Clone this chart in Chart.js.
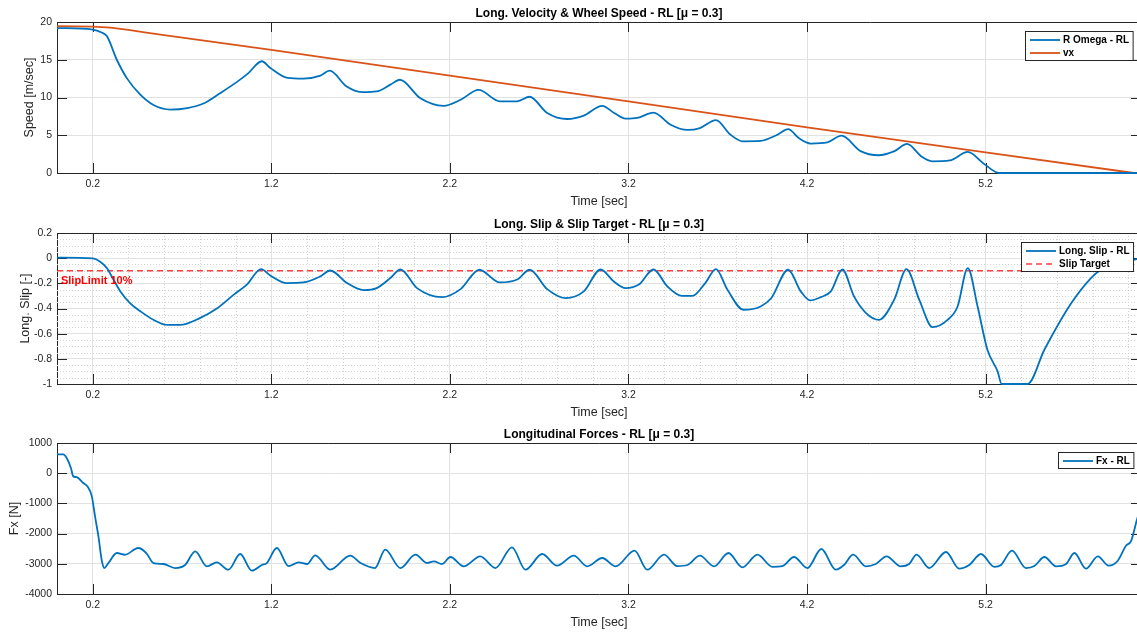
<!DOCTYPE html>
<html>
<head>
<meta charset="utf-8">
<script src="https://cdn.jsdelivr.net/npm/chart.js@4"></script>
<style>
  html, body { margin: 0; padding: 0; background: #fff; overflow: hidden; }
  .panel { position: absolute; left: 0; }
</style>
</head>
<body>
<canvas id="speedChart" class="panel" width="1145" height="211" style="top:0px"></canvas>
<canvas id="slipChart" class="panel" width="1145" height="211" style="top:211px"></canvas>
<canvas id="forceChart" class="panel" width="1145" height="211" style="top:421px"></canvas>
<script>

// Data

const xTicks = [0.2, 1.2, 2.2, 3.2, 4.2, 5.2];
const xMax = 6.07;

const speedTime = [0, 0.2, 0.25, 0.28, 0.335, 0.39, 0.465, 0.54, 0.635, 0.73, 0.82, 0.915, 1.01, 1.07, 1.147, 1.195,
    1.29, 1.38, 1.475, 1.527, 1.62, 1.715, 1.79, 1.867, 1.92, 2.035, 2.165, 2.26, 2.36, 2.48, 2.577, 2.646,
    2.745, 2.857, 2.95, 3.053, 3.12, 3.184, 3.25, 3.34, 3.436, 3.53, 3.6, 3.69, 3.77, 3.84, 3.94, 4.034,
    4.094, 4.155, 4.22, 4.314, 4.393, 4.5, 4.6, 4.69, 4.76, 4.84, 4.9, 5.0, 5.1, 5.19, 5.276, 6.07];
const wheelSpeed = [19.2, 19.0, 18.6, 18.1, 15.0, 12.6, 10.4, 9.0, 8.4, 8.6, 9.2, 10.6, 12.1, 13.2, 14.8, 13.9,
    12.6, 12.5, 12.9, 13.55, 11.5, 10.7, 10.8, 11.7, 12.35, 9.9, 8.9, 9.7, 11.0, 9.5, 9.5, 10.1,
    7.95, 7.15, 7.6, 8.9, 7.95, 7.2, 7.3, 8.0, 6.4, 5.7, 5.95, 7.0, 5.1, 4.2, 4.25, 5.07,
    5.8, 4.6, 3.9, 4.05, 4.95, 2.9, 2.35, 2.9, 3.85, 2.2, 1.55, 1.67, 2.8, 1.23, 0, 0];

const vxTime = [0, 0.2, 0.3, 0.4, 0.5, 0.6, 1.2, 2.2, 3.2, 4.2, 5.2, 6.03, 6.07];
const vx = [19.45, 19.4, 19.25, 18.95, 18.6, 18.25, 16.3, 12.9, 9.5, 6.05, 2.73, 0, 0];

const slipTime = [0, 0.2, 0.24, 0.28, 0.316, 0.353, 0.41, 0.465, 0.54, 0.615, 0.69, 0.8, 0.895, 0.99, 1.063, 1.143,
    1.194, 1.287, 1.38, 1.474, 1.53, 1.624, 1.717, 1.79, 1.867, 1.923, 2.016, 2.156, 2.26, 2.365, 2.48, 2.577,
    2.647, 2.745, 2.848, 2.95, 3.044, 3.118, 3.184, 3.258, 3.34, 3.418, 3.5, 3.558, 3.63, 3.69, 3.754, 3.843,
    3.94, 4.0, 4.094, 4.165, 4.217, 4.277, 4.333, 4.398, 4.463, 4.53, 4.603, 4.688, 4.757, 4.828, 4.903, 4.987,
    5.043, 5.1, 5.155, 5.21, 5.267, 5.29, 5.435, 5.529, 5.68, 5.79, 5.846, 5.94, 6.07];
const slip = [0.005, -0.002, -0.026, -0.08, -0.17, -0.26, -0.36, -0.42, -0.49, -0.53, -0.53, -0.476, -0.40, -0.29, -0.21, -0.087,
    -0.137, -0.198, -0.193, -0.145, -0.098, -0.198, -0.254, -0.238, -0.158, -0.09, -0.238, -0.31, -0.246, -0.092, -0.193, -0.17,
    -0.092, -0.246, -0.317, -0.264, -0.09, -0.185, -0.238, -0.21, -0.09, -0.225, -0.3, -0.3, -0.198, -0.087, -0.25, -0.41,
    -0.384, -0.317, -0.092, -0.264, -0.336, -0.31, -0.264, -0.09, -0.304, -0.436, -0.49, -0.33, -0.087, -0.33, -0.548, -0.49,
    -0.384, -0.079, -0.384, -0.728, -0.9, -1.0, -1.0, -0.728, -0.357, -0.158, -0.092, -0.045, 0.0];

const targetTime = [0, xMax];
const slipTarget = [-0.1, -0.1];

const forceTime = [0, 0.035, 0.054, 0.078, 0.091, 0.11, 0.147, 0.17, 0.195, 0.213, 0.232, 0.25, 0.265, 0.288, 0.335, 0.38,
    0.455, 0.5, 0.54, 0.596, 0.661, 0.717, 0.774, 0.839, 0.895, 0.96, 1.026, 1.091, 1.147, 1.175, 1.231, 1.297,
    1.353, 1.4, 1.446, 1.53, 1.642, 1.7, 1.78, 1.838, 1.923, 2.007, 2.073, 2.11, 2.156, 2.203, 2.277, 2.37,
    2.455, 2.548, 2.623, 2.717, 2.8, 2.894, 2.969, 3.053, 3.128, 3.234, 3.305, 3.399, 3.473, 3.53, 3.6, 3.679,
    3.76, 3.838, 3.922, 4.006, 4.062, 4.127, 4.202, 4.28, 4.361, 4.407, 4.458, 4.529, 4.585, 4.645, 4.725, 4.772,
    4.813, 4.884, 4.978, 5.052, 5.108, 5.174, 5.249, 5.286, 5.347, 5.426, 5.473, 5.529, 5.594, 5.65, 5.697, 5.762,
    5.828, 5.889, 5.94, 5.986, 6.014, 6.05, 6.07];
const force = [622, 622, 502, 172, -105, -130, -326, -436, -767, -1430, -2093, -2865, -3140, -2975, -2643, -2700,
    -2477, -2643, -2975, -3007, -3140, -3040, -2590, -3085, -2953, -3195, -2676, -3228, -3040, -2975, -2477, -3074,
    -2953, -3007, -2720, -3195, -2730, -2975, -3140, -2532, -3140, -2698, -2975, -2920, -3007, -2775, -3085, -2753,
    -3140, -2456, -3195, -2676, -3062, -2730, -3085, -2808, -3085, -2566, -3195, -2698, -3074, -3040, -2730, -3085,
    -2643, -3118, -2698, -3100, -3074, -2775, -3140, -2510, -3195, -3040, -2698, -3085, -3007, -2753, -3085, -3007,
    -2698, -3140, -2610, -3162, -3040, -2676, -3100, -3040, -2566, -3140, -3074, -2775, -3085, -3007, -2643, -3162,
    -2753, -3062, -2898, -2400, -2250, -1483, -1150];

// Styling

const BLUE = "#0072BD";
const ORANGE = "#D95319";
const AXIS = "#262626";
const GRID = "#e2e2e2";
const FONT = "'Liberation Sans', Arial, Helvetica, sans-serif";

Chart.defaults.font.family = FONT;
Chart.defaults.color = AXIS;

function pts(xs, ys) {
    return xs.map((x, i) => ({ x: x, y: ys[i] }));
}

function line(label, data, color, dash, straight) {
    return {
        label: label,
        data: data,
        borderColor: color,
        borderWidth: dash ? 1.5 : 1.8,
        borderDash: dash || [],
        pointRadius: 0,
        fill: false,
        tension: 0,
        cubicInterpolationMode: straight ? "default" : "monotone",
        clip: 2
    };
}

// MATLAB-like box, inward ticks, minor grid, text note and legend
const axesFrame = {
    id: "axesFrame",
    beforeDatasetsDraw(chart, args, opts) {
        const { ctx, chartArea: a, scales: { x, y } } = chart;
        const px = v => Math.round(v) + 0.5;
        ctx.save();

        if (opts.minorGrid) {
            ctx.strokeStyle = "#d2d2d2";
            ctx.lineWidth = 1;
            ctx.setLineDash([1, 2]);
            ctx.beginPath();
            for (let k = 2; k * 0.2 < x.max; k++) {
                if ((k - 1) % 5 === 0) continue;
                const xp = px(x.getPixelForValue(k * 0.2));
                ctx.moveTo(xp, a.top); ctx.lineTo(xp, a.bottom);
            }
            for (let k = 1; y.min + k * 0.05 < y.max - 0.001; k++) {
                if (k % 4 === 0) continue;
                const yp = px(y.getPixelForValue(y.min + k * 0.05));
                ctx.moveTo(a.left, yp); ctx.lineTo(a.right, yp);
            }
            ctx.stroke();
            ctx.setLineDash([]);
        }

        ctx.strokeStyle = AXIS;
        ctx.lineWidth = 1;
        ctx.beginPath();
        ctx.moveTo(a.left, px(a.top)); ctx.lineTo(px(a.right), px(a.top)); ctx.lineTo(px(a.right), a.bottom);
        x.ticks.forEach(t => {
            const xp = px(x.getPixelForValue(t.value));
            ctx.moveTo(xp, a.bottom); ctx.lineTo(xp, a.bottom - 10);
            ctx.moveTo(xp, a.top); ctx.lineTo(xp, a.top + 10);
        });
        y.ticks.forEach(t => {
            const yp = px(y.getPixelForValue(t.value));
            ctx.moveTo(a.left, yp); ctx.lineTo(a.left + 10, yp);
            ctx.moveTo(a.right, yp); ctx.lineTo(a.right - 10, yp);
        });
        ctx.stroke();
        ctx.restore();
    },
    afterDatasetsDraw(chart, args, opts) {
        const { ctx, chartArea: a, scales: { x, y } } = chart;
        ctx.save();

        if (opts.note) {
            ctx.font = "bold 11px " + FONT;
            ctx.fillStyle = opts.note.color;
            ctx.textAlign = "left";
            ctx.textBaseline = "middle";
            ctx.fillText(opts.note.text, x.getPixelForValue(opts.note.x), y.getPixelForValue(opts.note.y));
        }

        // legend box in the top right corner
        const sets = chart.data.datasets;
        ctx.font = "bold 10px " + FONT;
        const textW = Math.max(...sets.map(d => ctx.measureText(d.label).width));
        const w = 4.5 + 30 + 3 + textW + 4;
        const h = 3 + 13 * sets.length;
        const left = Math.round(a.right - 8 - w) + 0.5;
        const top = Math.round(a.top + 9) + 0.5;
        ctx.fillStyle = "#fff";
        ctx.fillRect(left, top, w, h);
        ctx.strokeStyle = AXIS;
        ctx.lineWidth = 1;
        ctx.strokeRect(left, top, w, h);
        sets.forEach((d, i) => {
            const cy = top + 8.5 + 13 * i;
            ctx.strokeStyle = d.borderColor;
            ctx.lineWidth = d.borderWidth;
            ctx.setLineDash(d.borderDash);
            ctx.beginPath();
            ctx.moveTo(left + 4.5, cy); ctx.lineTo(left + 34.5, cy);
            ctx.stroke();
            ctx.setLineDash([]);
            ctx.fillStyle = "#000";
            ctx.textAlign = "left";
            ctx.textBaseline = "middle";
            ctx.fillText(d.label, left + 37.5, cy);
        });
        ctx.restore();
    }
};

function makeOptions(title, yLabel, yMin, yMax, yStep, yTitlePad, frame) {
    return {
        responsive: false,
        animation: false,
        layout: { padding: { left: 0, right: 4, top: 0, bottom: 0 } },
        plugins: {
            legend: { display: false },
            tooltip: { enabled: false },
            title: {
                display: true,
                text: title,
                fullSize: false,
                color: "#000",
                font: { size: 12, weight: "bold" },
                padding: { top: 6, bottom: 1.6 }
            },
            axesFrame: frame
        },
        scales: {
            x: {
                type: "linear",
                min: 0,
                max: xMax,
                afterBuildTicks: s => { s.ticks = xTicks.map(v => ({ value: v })); },
                afterFit: s => { s.height = 38; },
                ticks: { callback: v => v.toFixed(1), font: { size: 10.5 }, padding: 5, maxRotation: 0, autoSkip: false },
                grid: { color: GRID, drawTicks: false },
                border: { color: AXIS },
                title: { display: true, text: "Time [sec]", font: { size: 12.5 }, padding: { top: 0, bottom: 2.2 } }
            },
            y: {
                min: yMin,
                max: yMax,
                afterFit: s => { s.width = 57; },
                ticks: { stepSize: yStep, callback: v => String(Math.round(v * 1000) / 1000), font: { size: 10.5 }, padding: 5 },
                grid: { color: GRID, drawTicks: false },
                border: { color: AXIS },
                title: { display: true, text: yLabel, font: { size: 12.5 }, padding: { top: yTitlePad, bottom: 0 } }
            }
        }
    };
}

// Speed graph

new Chart(document.getElementById("speedChart"), {
    type: "line",
    data: {
        datasets: [
            line("R Omega - RL", pts(speedTime, wheelSpeed), BLUE),
            line("vx", pts(vxTime, vx), ORANGE, null, true)
        ]
    },
    options: makeOptions("Long. Velocity & Wheel Speed - RL [\u03bc = 0.3]", "Speed [m/sec]", 0, 20, 5, 22.5, {}),
    plugins: [axesFrame]
});

// Slip graph

new Chart(document.getElementById("slipChart"), {
    type: "line",
    data: {
        datasets: [
            line("Long. Slip - RL", pts(slipTime, slip), BLUE),
            line("Slip Target", pts(targetTime, slipTarget), "rgba(255, 0, 0, 0.75)", [6, 4], true)
        ]
    },
    options: makeOptions("Long. Slip & Slip Target - RL [\u03bc = 0.3]", "Long. Slip [-]", -1, 0.2, 0.2, 18.5, {
        minorGrid: true,
        note: { text: "SlipLimit 10%", x: 0.022, y: -0.185, color: "#ff0000" }
    }),
    plugins: [axesFrame]
});

// Force graph

new Chart(document.getElementById("forceChart"), {
    type: "line",
    data: {
        datasets: [
            line("Fx - RL", pts(forceTime, force), BLUE)
        ]
    },
    options: makeOptions("Longitudinal Forces - RL [\u03bc = 0.3]", "Fx [N]", -4000, 1000, 1000, 7.5, {}),
    plugins: [axesFrame]
});

</script>
</body>
</html>
